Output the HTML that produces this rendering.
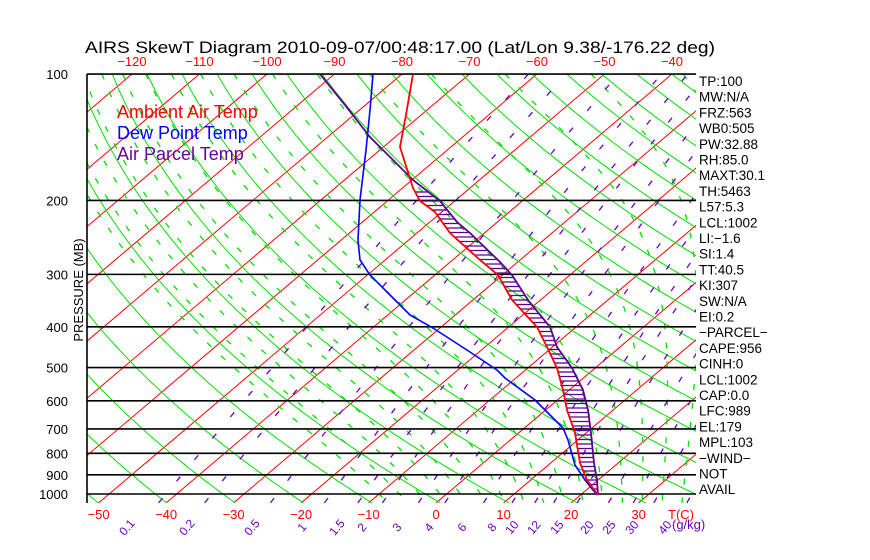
<!DOCTYPE html>
<html><head><meta charset="utf-8"><style>
html,body{margin:0;padding:0;background:#fff;}
svg{display:block;font-family:"Liberation Sans",sans-serif;}
</style></head><body>
<svg id="s" width="870" height="560" xmlns="http://www.w3.org/2000/svg">
<defs><clipPath id="c"><rect x="87" y="74" width="609" height="429"/></clipPath></defs>
<rect width="870" height="560" fill="#fff"/>
<g id="grid" clip-path="url(#c)"></g>
<g id="prof" clip-path="url(#c)"></g>
<g id="txt"></g>
</svg>
<script>
var NS="http://www.w3.org/2000/svg";
function el(par,tag,a,txt){var e=document.createElementNS(NS,tag);for(var k in a)e.setAttribute(k,a[k]);if(txt!==undefined)e.textContent=txt;par.appendChild(e);return e;}
function Y(p){return 74+182.4*Math.log(p/100);}
function X(T,p){return 436+6.75*T+(503-Y(p))*1.1795;}
var g=document.getElementById('grid'),pr=document.getElementById('prof'),tx=document.getElementById('txt');
function poly(par,pts,st){var d=pts.map(function(q){return q[0].toFixed(1)+','+q[1].toFixed(1)}).join(' ');var a={points:d,fill:'none'};for(var k in st)a[k]=st[k];el(par,'polyline',a);}
for(var T=-140;T<=50;T+=10){poly(g,[[X(T,1050),Y(1050)],[X(T,100),Y(100)]],{stroke:'#ff0000','stroke-width':1});}
var ps=[];for(var p=100;p<=1050;p+=10)ps.push(p);
for(var th=200;th<=480;th+=10){var pts=ps.map(function(p){return [X(th*Math.pow(p/1000,0.2857)-273.15,p),Y(p)]});poly(g,pts,{stroke:'#00e000','stroke-width':1});}
function es(T){return 6.112*Math.exp(17.67*T/(T+243.5));}
function step(T,p,dp){var r=0.622*es(T-273.15)/(p-es(T-273.15));var num=287*T+2.5e6*r;var den=1004+2.5e6*2.5e6*r*0.622/(287*T*T);return num/den/p*dp;}
for(var T0=-10;T0<=44;T0+=3){var T=T0+273.15,pts=[];
 var Tb=T;for(var p=1000;p<1050;p+=1)Tb+=step(Tb,p,1);
 pts.push([X(Tb-273.15,1050),Y(1050)]);
 var Tt=T;for(var p=1000;p>=100;p-=1){if(p%10==0)pts.unshift([X(Tt-273.15,p),Y(p)]);Tt+=step(Tt,p,-1);}
 poly(g,pts,{stroke:'#00e000','stroke-width':1.3,'stroke-dasharray':'6,13'});}
var ws=[0.1,0.2,0.5,1,1.5,2,3,4,6,8,10,12,15,20,25,30,40];
function Tw(w,p){var e=w*p/(622+w);var l=Math.log(e/6.112);return 243.5*l/(17.67-l);}
ws.forEach(function(w){var pts=[];for(var p=1050;p>=100;p-=10)pts.push([X(Tw(w,p),p),Y(p)]);poly(g,pts,{stroke:'#6a00c0','stroke-width':1.3,'stroke-dasharray':'6,22'});});
[100,200,300,400,500,600,700,800,900,1000].forEach(function(p){el(g,'line',{x1:87,x2:696,y1:Y(p),y2:Y(p),stroke:'#000','stroke-width':1.6});});
el(tx,'line',{x1:87,x2:87,y1:74,y2:503,stroke:'#000','stroke-width':1.6});
el(tx,'line',{x1:87,x2:696,y1:74,y2:74,stroke:'#000','stroke-width':1.6});
var tmp=[[413,74],[406,115],[400,147],[413,188],[420,201],[435,212],[450,233],[480,260],[498,275],[512,300],[537,327],[547,347],[557,368],[563,390],[567,410],[575,433],[580,463],[587,480],[598,495]];
var par=[[320,74],[345,105],[370,137],[413,180],[440,201],[457,222],[470,233],[500,262],[512,275],[528,300],[550,327],[557,347],[572,368],[583,390],[588,410],[591,433],[594,463],[597,480],[598,495]];
var dew=[[373,74],[370,110],[366,150],[360,200],[358,240],[360,260],[370,275],[390,295],[410,315],[433,328],[470,352],[497,370],[505,378],[535,400],[550,415],[563,428],[568,440],[575,465],[585,480],[597,495]];
function interp(a,y){for(var i=0;i<a.length-1;i++){if(y>=a[i][1]&&y<=a[i+1][1]){var t=(y-a[i][1])/(a[i+1][1]-a[i][1]);return a[i][0]+t*(a[i+1][0]-a[i][0]);}}return null;}
for(var y=192;y<=493;y+=4.5){var a=interp(tmp,y),b=interp(par,y);if(a!==null&&b!==null&&b>a)el(pr,'line',{x1:a,x2:b,y1:y,y2:y,stroke:'#5a0090','stroke-width':1.3});}
poly(pr,dew,{stroke:'#0000ff','stroke-width':1.6});
poly(pr,par,{stroke:'#5a0090','stroke-width':1.8});
poly(pr,tmp,{stroke:'#ff0000','stroke-width':1.8});
el(tx,'text',{x:85,y:53,'font-size':17,fill:'#000',textLength:630,lengthAdjust:'spacingAndGlyphs'},'AIRS SkewT Diagram 2010-09-07/00:48:17.00 (Lat/Lon 9.38/-176.22 deg)');
for(var T=-120;T<=-40;T+=10){el(tx,'text',{x:X(T,100),y:66,'font-size':13,fill:'#ff0000','text-anchor':'middle'},'\u2212'+(-T));}
for(var T=-50;T<=30;T+=10){el(tx,'text',{x:X(T,1050),y:519,'font-size':13,fill:'#ff0000','text-anchor':'middle'},T<0?'\u2212'+(-T):''+T);}
el(tx,'text',{x:668,y:519,'font-size':13,fill:'#ff0000'},'T(C)');
var wx=[130,190,255,305,340,365,400,432,465,495,515,537,560,590,612,635,668];
ws.forEach(function(w,i){var x=wx[i],y=530;el(tx,'text',{x:x,y:y,'font-size':12,fill:'#6a00c0','text-anchor':'middle',transform:'rotate(-50 '+x+' '+y+')'},''+w);});
el(tx,'text',{x:672,y:529,'font-size':13,fill:'#6a00c0'},'(g/kg)');
[100,200,300,400,500,600,700,800,900,1000].forEach(function(p){el(tx,'text',{x:68,y:Y(p)+5,'font-size':13,fill:'#000','text-anchor':'end'},''+p);});
el(tx,'text',{x:83,y:290,'font-size':13,fill:'#000','text-anchor':'middle',transform:'rotate(-90 83 290)'},'PRESSURE (MB)');
el(tx,'text',{x:117,y:118,'font-size':18,fill:'#ff0000'},'Ambient Air Temp');
el(tx,'text',{x:117,y:139,'font-size':18,fill:'#0000ff'},'Dew Point Temp');
el(tx,'text',{x:117,y:160,'font-size':18,fill:'#6a00a0'},'Air Parcel Temp');
var L=['TP:100','MW:N/A','FRZ:563','WB0:505','PW:32.88','RH:85.0','MAXT:30.1','TH:5463','L57:5.3','LCL:1002','LI:\u22121.6','SI:1.4','TT:40.5','KI:307','SW:N/A','EI:0.2','\u2212PARCEL\u2212','CAPE:956','CINH:0','LCL:1002','CAP:0.0','LFC:989','EL:179','MPL:103','\u2212WIND\u2212','NOT','AVAIL'];
L.forEach(function(s,i){el(tx,'text',{x:699,y:86+i*15.7,'font-size':13.5,fill:'#000'},s);});
</script>
</body></html>
